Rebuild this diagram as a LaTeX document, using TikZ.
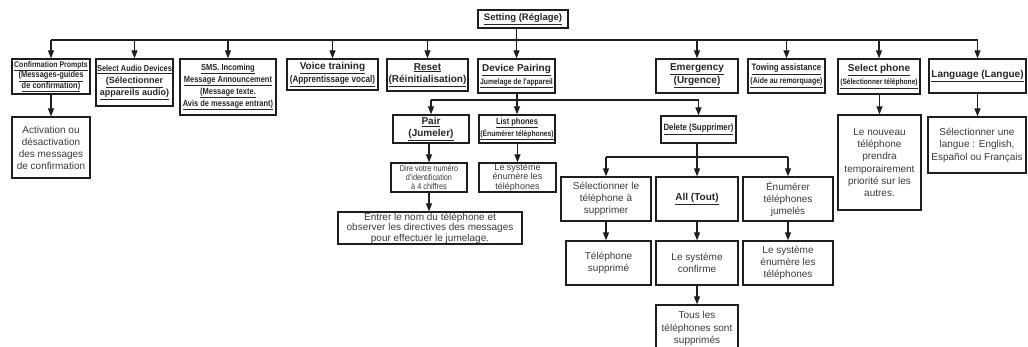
\documentclass[tikz,border=0pt]{standalone}
\usepackage{fontspec}
\setmainfont{Liberation Sans}
\newfontfamily\nf[FakeStretch=0.85]{Liberation Sans}
\usetikzlibrary{arrows.meta}
\definecolor{ink}{HTML}{1E1E1E}
\definecolor{txt}{HTML}{262626}
\definecolor{desc}{HTML}{3A3A3A}
\newcommand{\fs}[2]{\fontsize{#1}{#2}\selectfont}
% bold underlined, normal width / narrow
\newcommand{\Bu}[2]{{\bfseries\fs{#1}{#1}\underline{#2}}}
\newcommand{\Nu}[2]{{\nf\bfseries\fs{#1}{#1}\underline{#2}}}
\tikzset{
  box/.style={draw=ink, line width=1.3pt, inner sep=0pt, align=center, text=txt},
  dbox/.style={box, text=desc},
  ln/.style={draw=ink, line width=1.2pt},
  arr/.style={draw=ink, line width=1.2pt, -{Triangle[length=8pt,width=6pt]}},
}
\begin{document}
\begin{tikzpicture}[x=1pt,y=-1pt]
\useasboundingbox (0,0) rectangle (1028,347);
\fill[white] (0,0) rectangle (1028,347);
% level 0
\node[box, minimum width=90pt, minimum height=18pt, font=\fs{9.5}{11}] (setting) at (523,19) {\Bu{9.5}{Setting (Réglage)}};
% level 1
\node[box, minimum width=78pt, minimum height=35pt, font=\fs{9}{10.5}] (conf) at (51,76.5) {\Nu{8.2}{Confirmation Prompts}\\\Nu{8.8}{(Messages-guides}\\\Nu{8.8}{de confirmation)}};
\node[box, minimum width=77pt, minimum height=47pt, font=\fs{9}{12}] (audio) at (134.5,82.5) {\Nu{8.7}{Select Audio Devices}\\\Bu{9}{(Sélectionner}\\\Bu{9}{appareils audio)}};
\node[box, minimum width=96pt, minimum height=56pt, font=\fs{9}{12}] (sms) at (228,87) {\Nu{8.8}{SMS. Incoming}\\\Nu{8.8}{Message Announcement}\\\Nu{8.8}{(Message texte.}\\\Nu{8.8}{Avis de message entrant)}};
\node[box, minimum width=91pt, minimum height=31pt, font=\fs{10}{12.5}] (voice) at (332.5,74.5) {\Bu{10}{Voice training}\\\Nu{9.6}{(Apprentissage vocal)}};
\node[box, minimum width=81pt, minimum height=32pt, font=\fs{10}{12.5}] (reset) at (427.5,75) {\Bu{10}{Reset}\\\Bu{10}{(Réinitialisation)}};
\node[box, minimum width=77pt, minimum height=34pt, font=\fs{10}{13}] (pairing) at (516.5,76) {\Bu{10}{Device Pairing}\\\Nu{8}{Jumelage de l'appareil}};
\node[box, minimum width=82pt, minimum height=34pt, font=\fs{10}{13}] (emerg) at (697,76) {\Bu{10}{Emergency}\\\Bu{10}{(Urgence)}};
\node[box, minimum width=77pt, minimum height=34pt, font=\fs{10}{13}] (towing) at (786.5,76) {\Nu{9.3}{Towing assistance}\\\Nu{8.2}{(Aide au remorquage)}};
\node[box, minimum width=82pt, minimum height=35pt, font=\fs{10}{13}] (selph) at (879,76.5) {\Bu{10}{Select phone}\\\Nu{7.8}{(Sélectionner téléphone)}};
\node[box, minimum width=97pt, minimum height=34pt, font=\fs{10}{12}] (lang) at (977.5,76) {\Bu{10}{Language (Langue)}};
% level 2
\node[dbox, minimum width=78pt, minimum height=61pt, font=\fs{10}{12}] (confd) at (51,147.5) {Activation ou\\désactivation\\des messages\\de confirmation};
\node[box, minimum width=76pt, minimum height=28pt, font=\fs{10}{12.5}] (pair) at (431,129) {\Bu{10}{Pair}\\\Bu{10}{(Jumeler)}};
\node[box, minimum width=76pt, minimum height=28pt, font=\fs{9}{12.5}] (list) at (517,129) {\Nu{8.8}{List phones}\\\Nu{7.9}{(Énumérer téléphones)}};
\node[box, minimum width=75pt, minimum height=27pt, font=\fs{9}{11}] (delete) at (698.5,129.5) {\Nu{9.2}{Delete (Supprimer)}};
\node[dbox, minimum width=83pt, minimum height=95pt, font=\fs{10}{12.3}] (selphd) at (879.5,162.5) {Le nouveau\\téléphone\\prendra\\temporairement\\priorité sur les\\autres.};
\node[dbox, minimum width=98pt, minimum height=56pt, font=\fs{10}{12.5}] (langd) at (977,145) {Sélectionner une\\langue : English,\\Español ou Français};
% level 3
\node[dbox, minimum width=76pt, minimum height=29pt, font=\nf\fs{8.6}{9.3}] (dire) at (429,177.5) {Dire votre numéro\\d'identification\\à 4 chiffres};
\node[dbox, minimum width=77pt, minimum height=29pt, font=\fs{9}{9.5}] (listd) at (517.5,177.5) {Le système\\énumère les\\téléphones};
\node[dbox, minimum width=184pt, minimum height=32pt, font=\fs{10}{10.5}] (entrer) at (430,228) {Entrer le nom du téléphone et\\observer les directives des messages\\pour effectuer le jumelage.};
\node[dbox, minimum width=90pt, minimum height=44pt, font=\fs{10}{12}] (selsup) at (606,199) {Sélectionner le\\téléphone à\\supprimer};
\node[box, minimum width=82pt, minimum height=44pt, font=\fs{10}{12}] (all) at (697,199) {\Bu{10}{All (Tout)}};
\node[dbox, minimum width=90pt, minimum height=44pt, font=\fs{10}{12}] (enum) at (788,199) {Énumérer\\téléphones\\jumelés};
\node[dbox, minimum width=85pt, minimum height=44pt, font=\fs{10}{12}] (telsup) at (608.5,263) {Téléphone\\supprimé};
\node[dbox, minimum width=82pt, minimum height=44pt, font=\fs{10}{12}] (confirme) at (697,263) {Le système\\confirme};
\node[dbox, minimum width=90pt, minimum height=44pt, font=\fs{10}{12}] (enumd) at (788,263) {Le système\\énumère les\\téléphones};
\node[dbox, minimum width=82pt, minimum height=47pt, font=\fs{10}{12.5}] (tous) at (697,328.5) {Tous les\\téléphones sont\\supprimés};
% buses
\coordinate (bus) at (0,40);
\coordinate (pbus) at (0,100);
\coordinate (dbus) at (0,157);
% connectors level 0 -> 1
\draw[ln] (conf.north |- bus) -- (lang.north |- bus);
\draw[arr] (setting.south -| pairing.north) -- (pairing.north);
\foreach \n in {conf,audio,sms,voice,reset,emerg,towing,selph,lang}
  \draw[arr] (\n.north |- bus) -- (\n.north);
% device pairing
\draw[ln] (pair.north |- pbus) -- (delete.north |- pbus);
\draw[arr] (pairing.south -| list.north) -- (list.north);
\draw[arr] (pair.north |- pbus) -- (pair.north);
\draw[arr] (delete.north |- pbus) -- (delete.north);
% delete
\draw[ln] (selsup.north |- dbus) -- (enum.north |- dbus);
\draw[arr] (delete.south -| all.north) -- (all.north);
\draw[arr] (selsup.north |- dbus) -- (selsup.north);
\draw[arr] (enum.north |- dbus) -- (enum.north);
% chains
\draw[arr] (conf.south) -- (confd.north);
\draw[arr] (pair.south -| dire.north) -- (dire.north);
\draw[arr] (dire.south) -- (dire.south |- entrer.north);
\draw[arr] (list.south -| listd.north) -- (listd.north);
\draw[arr] (selsup.south) -- (selsup.south |- telsup.north);
\draw[arr] (all.south) -- (confirme.north);
\draw[arr] (confirme.south) -- (tous.north);
\draw[arr] (enum.south) -- (enumd.north);
\draw[arr] (selph.south -| selphd.north) -- (selphd.north);
\draw[arr] (lang.south) -- (lang.south |- langd.north);
\end{tikzpicture}
\end{document}
